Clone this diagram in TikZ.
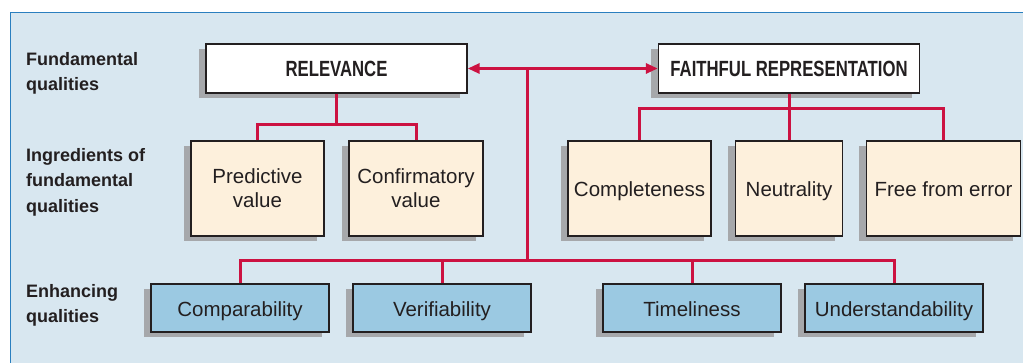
\documentclass[tikz,border=0pt]{standalone}
\usepackage{fontspec}
\setmainfont{Liberation Sans}
\newfontfamily\hdfont[FakeStretch=0.76]{Liberation Sans}
\usetikzlibrary{shadows,arrows.meta}
\definecolor{panelfill}{HTML}{D8E7F0}
\definecolor{panelline}{HTML}{2A7FBF}
\definecolor{yellowbox}{HTML}{FDF0DC}
\definecolor{bluebox}{HTML}{9BC9E2}
\definecolor{shadowgray}{HTML}{A6A8AB}
\definecolor{inkdark}{HTML}{231F20}
\definecolor{linkred}{HTML}{CC1241}
\tikzset{
  basebox/.style={draw=inkdark, line width=1.4pt, text=inkdark, inner sep=0pt, align=center,
    general shadow={fill=shadowgray, shadow xshift=-7.5pt, shadow yshift=-5.5pt}},
  oneline/.style={text height=18pt, text depth=1pt},
  headbox/.style={basebox, oneline, fill=white, minimum width=261pt, minimum height=49pt,
    font=\hdfont\bfseries\fontsize{22}{24}\selectfont},
  ingbox/.style={basebox, fill=yellowbox, minimum height=95pt,
    font=\fontsize{20.5}{24}\selectfont},
  enhbox/.style={basebox, oneline, fill=bluebox, minimum width=178pt, minimum height=48pt,
    font=\fontsize{20.5}{24}\selectfont},
  rowlabel/.style={anchor=north west, inner sep=0pt, align=left, text=inkdark,
    font=\bfseries\fontsize{18}{25.5}\selectfont},
  link/.style={draw=linkred, line width=3pt},
  biarrow/.style={link, {Triangle[length=12pt,width=10pt]}-{Triangle[length=12pt,width=10pt]}}
}
\begin{document}
\begin{tikzpicture}[x=1pt,y=-1pt]
\useasboundingbox (0,0) rectangle (1023,363);
\clip (0,0) rectangle (1023,363);
\fill[white] (0,0) rectangle (1023,363);
\draw[fill=panelfill, draw=panelline, line width=1pt] (10.5,12.3) rectangle (1040,380);

% row labels
\node[rowlabel] (lab1) at (26,52) {Fundamental\\qualities};
\node[rowlabel] (lab2) at (26,148) {Ingredients of\\fundamental\\qualities};
\node[rowlabel] (lab3) at (26,284) {Enhancing\\qualities};

% fundamental qualities
\node[headbox] (rel) at (336.5,68.5) {RELEVANCE};
\node[headbox] (fr) at (789,68.5) {FAITHFUL REPRESENTATION};

% ingredients
\node[ingbox, minimum width=133pt] (pred) at (257.5,188.5) {Predictive\\value};
\node[ingbox, minimum width=134pt] (conf) at (416,188.5) {Confirmatory\\value};
\node[ingbox, oneline, minimum width=143pt] (comp) at (639.5,188.5) {Completeness};
\node[ingbox, oneline, minimum width=107pt] (neut) at (789,188.5) {Neutrality};
\node[ingbox, oneline, minimum width=153.5pt] (free) at (943.5,188.5) {Free from error};

% enhancing
\node[enhbox] (compar) at (240,308) {Comparability};
\node[enhbox] (verif) at (442,308) {Verifiability};
\node[enhbox] (time) at (692,308) {Timeliness};
\node[enhbox] (under) at (894,308) {Understandability};

% connectors
\coordinate (j) at (527.5,68.5);
\coordinate (rb) at (336.5,124.5);
\coordinate (fb) at (789,108.5);
\coordinate (eb) at (527.5,261);

\draw[biarrow] (rel.east) -- (fr.west);
\draw[link] (j) -- (eb);

\draw[link] (rel.south) -- (rb);
\draw[link] (pred.north) |- (rb) -| (conf.north);

\draw[link] (fr.south) -- (neut.north);
\draw[link] (comp.north) |- (fb) -| (free.north);

\draw[link] (compar.north) |- (eb) -| (under.north);
\draw[link] (verif.north) -- (verif.north |- eb);
\draw[link] (time.north) -- (time.north |- eb);
\end{tikzpicture}
\end{document}
